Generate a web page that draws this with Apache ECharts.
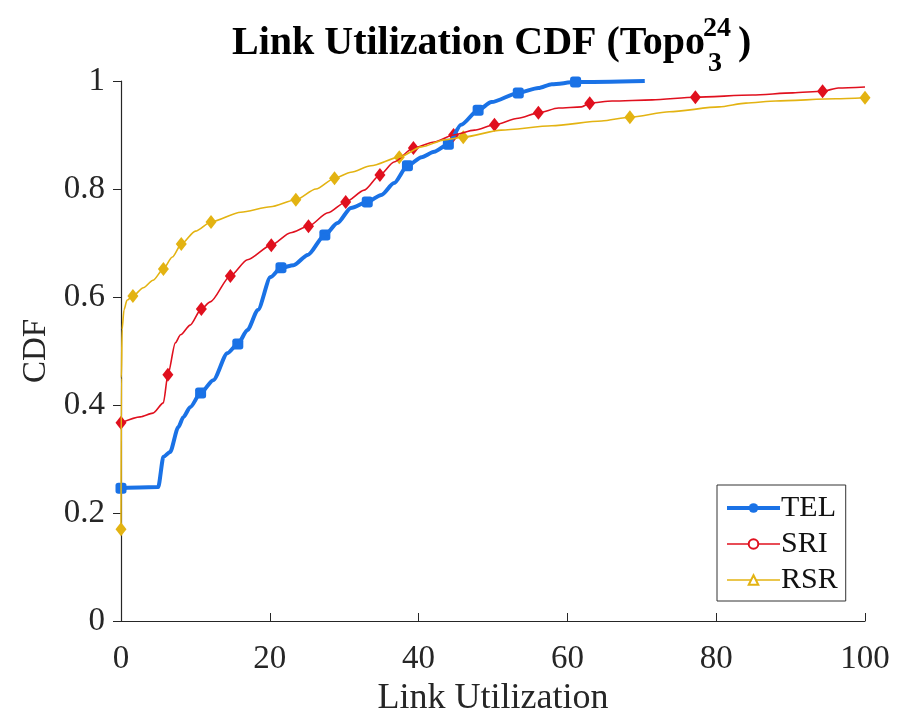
<!DOCTYPE html>
<html><head><meta charset="utf-8">
<script src="https://cdn.jsdelivr.net/npm/echarts@6/dist/echarts.min.js"></script>
<style>html,body{margin:0;padding:0;background:#fff}#c{width:902px;height:708px}</style>
</head><body><div id="c"></div>
<script>
// ---- data ----
const xTicks = [0, 20, 40, 60, 80, 100];
const yTicks = [0, 0.2, 0.4, 0.6, 0.8, 1];
const seriesNames = ['TEL', 'SRI', 'RSR'];

const telX = [0, 5.0, 5.7, 6.6, 7.7, 8.4, 9.3, 10.7, 12.4, 14.3, 15.7, 17.0, 18.4, 20.1, 21.5, 23.2, 25.1, 27.4, 29.1, 30.9, 33.1, 35.0, 36.7, 38.5, 40.4, 42.1, 44.0, 45.7, 48.0, 49.8, 53.4, 56.1, 57.9, 61.1, 70.4];
const telY = [0.246, 0.248, 0.304, 0.313, 0.359, 0.378, 0.396, 0.422, 0.446, 0.496, 0.513, 0.539, 0.576, 0.637, 0.654, 0.659, 0.678, 0.715, 0.737, 0.765, 0.776, 0.789, 0.811, 0.843, 0.859, 0.869, 0.883, 0.919, 0.946, 0.961, 0.978, 0.987, 0.994, 0.998, 1.0];
const telMarkX = [0, 10.7, 15.7, 21.5, 27.4, 33.1, 38.5, 44.0, 48.0, 53.4, 61.1];
const telMarkY = [0.246, 0.422, 0.513, 0.654, 0.715, 0.776, 0.843, 0.883, 0.946, 0.978, 0.998];

const sriX = [0, 2.6, 4.3, 5.7, 6.3, 7.3, 8.0, 9.3, 10.8, 12.0, 14.7, 17.0, 20.2, 22.8, 25.2, 27.8, 30.2, 32.7, 34.8, 36.7, 39.3, 42.1, 44.7, 47.5, 50.2, 53.4, 56.1, 58.8, 61.9, 63.0, 66.0, 71.4, 77.2, 84.9, 90.3, 94.3, 96.4, 100];
const sriY = [0.367, 0.378, 0.385, 0.404, 0.456, 0.515, 0.530, 0.548, 0.578, 0.591, 0.639, 0.669, 0.696, 0.719, 0.731, 0.756, 0.776, 0.798, 0.826, 0.850, 0.876, 0.887, 0.900, 0.909, 0.919, 0.931, 0.941, 0.950, 0.952, 0.959, 0.963, 0.965, 0.970, 0.974, 0.978, 0.981, 0.987, 0.989];
const sriMarkX = [0, 6.3, 10.8, 14.7, 20.2, 25.2, 30.2, 34.8, 39.3, 44.7, 50.2, 56.1, 63.0, 77.2, 94.3];
const sriMarkY = [0.367, 0.456, 0.578, 0.639, 0.696, 0.731, 0.776, 0.826, 0.876, 0.900, 0.919, 0.941, 0.959, 0.970, 0.981];

const rsrX = [0, 0.05, 0.15, 0.4, 0.8, 1.6, 3.0, 4.3, 5.7, 6.9, 8.1, 10.0, 12.1, 16.1, 20.1, 23.5, 26.2, 28.7, 30.9, 33.6, 37.4, 40.4, 43.5, 46.0, 51.1, 57.9, 64.6, 68.4, 73.7, 80.4, 84.0, 88.0, 96.1, 100];
const rsrY = [0.17, 0.45, 0.54, 0.576, 0.594, 0.602, 0.617, 0.631, 0.652, 0.674, 0.698, 0.722, 0.739, 0.757, 0.767, 0.780, 0.800, 0.820, 0.831, 0.843, 0.859, 0.878, 0.891, 0.896, 0.909, 0.917, 0.926, 0.933, 0.943, 0.952, 0.959, 0.963, 0.967, 0.969];
const rsrMarkX = [0, 1.6, 5.7, 8.1, 12.1, 23.5, 28.7, 37.4, 46.0, 68.4, 100];
const rsrMarkY = [0.17, 0.602, 0.652, 0.698, 0.739, 0.780, 0.820, 0.859, 0.896, 0.933, 0.969];

// ---- build ----
const pairs = (xs, ys) => xs.map((x, i) => [x, ys[i]]);
const BLUE = '#1a72e6', RED = '#e0101e', YEL = '#e3b312';
const FONT = "'Liberation Serif', 'DejaVu Serif', serif";
const AX = '#262626';

const chart = echarts.init(document.getElementById('c'), null, {renderer: 'canvas'});

function lineSeries(name, data, color, width) {
  return {name: name, type: 'line', data: data, showSymbol: false, symbol: 'none',
    smooth: 0.25, smoothMonotone: 'x', lineStyle: {color: color, width: width},
    itemStyle: {color: color}, silent: true};
}
function markSeries(name, data, color, symbol, size) {
  return {name: name, type: 'scatter', data: data, symbol: symbol, symbolSize: size,
    itemStyle: {color: color, opacity: 1}, silent: true};
}

const option = {
  animation: false,
  backgroundColor: '#fff',
  title: [
    {text: 'Link Utilization CDF (Topo', left: 232, top: 24, padding: 0,
     textStyle: {fontFamily: FONT, fontWeight: 'bold', fontSize: 40, color: '#000'}},
    {text: '24', left: 703, top: 15, padding: 0,
     textStyle: {fontFamily: FONT, fontWeight: 'bold', fontSize: 28, color: '#000'}},
    {text: '3', left: 708, top: 50, padding: 0,
     textStyle: {fontFamily: FONT, fontWeight: 'bold', fontSize: 28, color: '#000'}},
    {text: ')', left: 738, top: 24, padding: 0,
     textStyle: {fontFamily: FONT, fontWeight: 'bold', fontSize: 40, color: '#000'}}
  ],
  grid: {left: 121, right: 37, top: 81, bottom: 87, containLabel: false, outerBoundsMode: 'none'},
  legend: {
    data: [
      {name: seriesNames[0], lineStyle: {width: 4}},
      {name: seriesNames[1], lineStyle: {width: 1.6}},
      {name: seriesNames[2], lineStyle: {width: 1.6}}
    ],
    orient: 'vertical', left: 717, top: 485,
    backgroundColor: '#fff', borderColor: '#333', borderWidth: 1,
    padding: [8, 8, 6, 8], itemGap: 6, itemWidth: 53, itemHeight: 12,
    textStyle: {fontFamily: FONT, fontSize: 30, color: '#111', padding: [0, 0, 0, -4]}
  },
  xAxis: {
    type: 'value', min: xTicks[0], max: xTicks[xTicks.length - 1], interval: 20,
    name: 'Link Utilization', nameLocation: 'middle', nameGap: 46,
    nameTextStyle: {fontFamily: FONT, fontSize: 36, color: AX},
    axisLine: {show: true, lineStyle: {color: AX, width: 1.2}},
    axisTick: {show: true, inside: true, length: 8, lineStyle: {color: AX}},
    axisLabel: {fontFamily: FONT, fontSize: 33, color: AX, margin: 22},
    splitLine: {show: false}
  },
  yAxis: {
    type: 'value', min: yTicks[0], max: yTicks[yTicks.length - 1], interval: 0.2,
    name: 'CDF', nameLocation: 'middle', nameGap: 68, nameRotate: 90,
    nameTextStyle: {fontFamily: FONT, fontSize: 33, color: AX},
    axisLine: {show: true, lineStyle: {color: AX, width: 1.2}},
    axisTick: {show: true, inside: false, length: 8, lineStyle: {color: AX}},
    axisLabel: {fontFamily: FONT, fontSize: 33, color: AX, margin: 16},
    splitLine: {show: false}
  },
  series: [
    lineSeries('TEL data', pairs(telX, telY), BLUE, 4),
    markSeries('TEL marks', pairs(telMarkX, telMarkY), BLUE, 'roundRect', 11),
    lineSeries('SRI data', pairs(sriX, sriY), RED, 1.6),
    markSeries('SRI marks', pairs(sriMarkX, sriMarkY), RED, 'diamond', [11, 14]),
    lineSeries('RSR data', pairs(rsrX, rsrY), YEL, 1.6),
    markSeries('RSR marks', pairs(rsrMarkX, rsrMarkY), YEL, 'diamond', [11, 14]),
    // legend entries
    {name: 'TEL', type: 'line', data: [], symbol: 'circle', lineStyle: {color: BLUE, width: 4}, itemStyle: {color: BLUE}},
    {name: 'SRI', type: 'line', data: [], symbol: 'emptyCircle', lineStyle: {color: RED, width: 1.6}, itemStyle: {color: RED}},
    {name: 'RSR', type: 'line', data: [], symbol: 'emptyTriangle', lineStyle: {color: YEL, width: 1.6}, itemStyle: {color: YEL}}
  ]
};
chart.setOption(option);
</script>
</body></html>
